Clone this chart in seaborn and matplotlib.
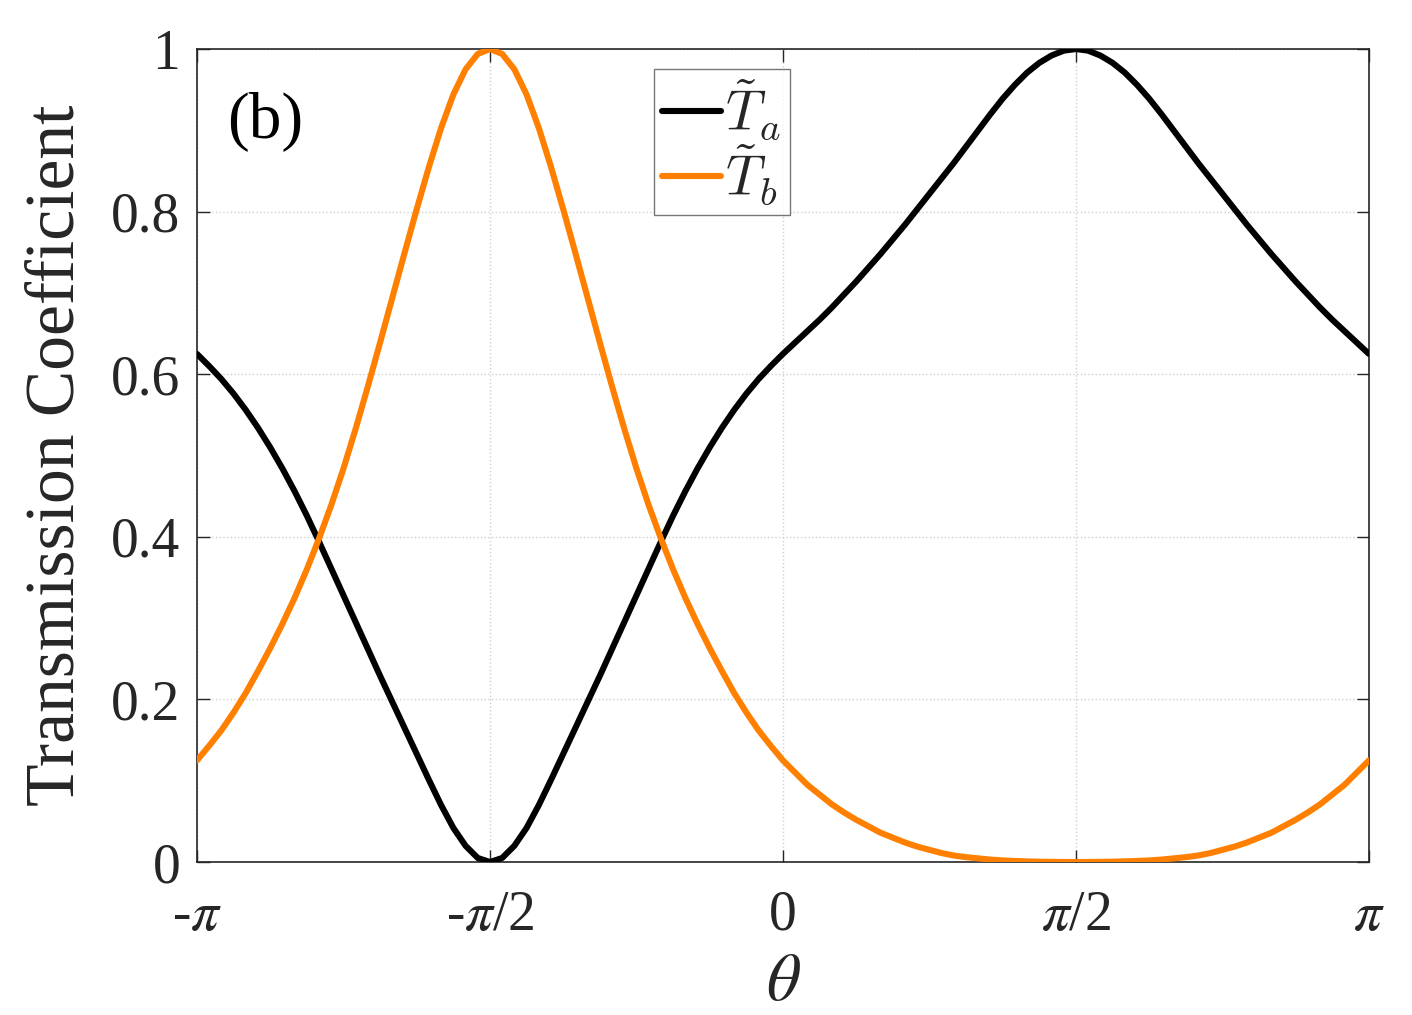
import numpy as np
import pandas as pd
import seaborn as sns
import matplotlib
matplotlib.use("Agg")
import matplotlib.pyplot as plt
from matplotlib.font_manager import FontProperties

# theta grid: -pi .. pi in steps of pi/48
theta = np.linspace(-np.pi, np.pi, 97)

# values
T_a = [0.625, 0.610, 0.594, 0.576, 0.556, 0.534, 0.510, 0.484, 0.456, 0.426,
       0.394, 0.361, 0.328, 0.295, 0.262, 0.229, 0.197, 0.165, 0.133, 0.101,
       0.070, 0.042, 0.020, 0.005, 0.000,
       0.005, 0.020, 0.042, 0.070, 0.101, 0.133, 0.165, 0.197, 0.229, 0.262,
       0.295, 0.328, 0.361, 0.394, 0.426, 0.456, 0.484, 0.510, 0.534, 0.556,
       0.576, 0.594, 0.610, 0.625,
       0.639, 0.653, 0.667, 0.682, 0.698, 0.714, 0.731, 0.748, 0.766, 0.784,
       0.803, 0.822, 0.841, 0.860, 0.880, 0.900, 0.920, 0.939, 0.956, 0.971,
       0.983, 0.992, 0.998, 1.000,
       0.998, 0.992, 0.983, 0.971, 0.956, 0.939, 0.920, 0.900, 0.880, 0.860,
       0.841, 0.822, 0.803, 0.784, 0.766, 0.748, 0.731, 0.714, 0.698, 0.682,
       0.667, 0.653, 0.639, 0.625]
T_b = [0.125, 0.143, 0.162, 0.184, 0.208, 0.235, 0.263, 0.293, 0.325, 0.360,
       0.398, 0.439, 0.484, 0.533, 0.585, 0.639, 0.694, 0.749, 0.803, 0.855,
       0.903, 0.944, 0.975, 0.994, 1.000,
       0.994, 0.975, 0.944, 0.903, 0.855, 0.803, 0.749, 0.694, 0.639, 0.585,
       0.533, 0.484, 0.439, 0.398, 0.360, 0.325, 0.293, 0.263, 0.235, 0.208,
       0.184, 0.162, 0.143, 0.125,
       0.110, 0.095, 0.083, 0.071, 0.061, 0.052, 0.044, 0.036, 0.030, 0.024,
       0.019, 0.015, 0.011, 0.008, 0.006, 0.0045, 0.003, 0.002, 0.0013, 0.0008,
       0.0004, 0.0002, 0.00005, 0.0,
       0.00005, 0.0002, 0.0004, 0.0008, 0.0013, 0.002, 0.003, 0.0045, 0.006, 0.008,
       0.011, 0.015, 0.019, 0.024, 0.030, 0.036, 0.044, 0.052, 0.061, 0.071,
       0.083, 0.095, 0.110, 0.125]

series_names = [r'$\tilde{T}_a$', r'$\tilde{T}_b$']
series_colors = ['black', '#FF8000']

x_ticks = [-np.pi, -np.pi / 2, 0, np.pi / 2, np.pi]
x_ticklabels = [r'-$\pi$', r'-$\pi$/2', '0', r'$\pi$/2', r'$\pi$']
y_ticks = [0, 0.2, 0.4, 0.6, 0.8, 1.0]
y_ticklabels = ['0', '0.2', '0.4', '0.6', '0.8', '1']

df = pd.DataFrame({
    'theta': np.concatenate([theta, theta]),
    'T': np.concatenate([T_a, T_b]),
    'curve': [series_names[0]] * len(theta) + [series_names[1]] * len(theta),
})

sns.set_style("ticks")
plt.rcParams['font.family'] = ['Liberation Serif', 'DejaVu Serif']
plt.rcParams['mathtext.fontset'] = 'stix'

fig = plt.figure(figsize=(14.12, 10.15), dpi=100)
ax = fig.add_axes([0.1395, 0.1507, 0.8300, 0.8010])

sns.lineplot(data=df, x='theta', y='T', hue='curve', sort=False,
             palette=dict(zip(series_names, series_colors)),
             linewidth=4.4, ax=ax, zorder=3)

ax.set_xlim(-np.pi, np.pi)
ax.set_ylim(0, 1)
ax.set_xticks(x_ticks)
ax.set_xticklabels(x_ticklabels)
ax.set_yticks(y_ticks)
ax.set_yticklabels(y_ticklabels)
ax.grid(True, linestyle=':', color='#d0d0d0', linewidth=1.0)

ax.tick_params(axis='both', direction='in', length=9, width=1.0,
               top=True, right=True, colors='#262626', labelsize=40)
ax.tick_params(axis='x', pad=20)
ax.tick_params(axis='y', pad=12)
for s in ax.spines.values():
    s.set_color('#262626')
    s.set_linewidth(1.2)

ax.set_xlabel(r'$\theta$', fontsize=48, color='#262626', labelpad=8)
ax.set_ylabel('Transmission Coefficient', fontsize=50, color='#262626', labelpad=16)

ax.text(0.026, 0.91, '(b)', transform=ax.transAxes, fontsize=47,
        va='center', ha='left', color='black')

leg_font = FontProperties(family='Liberation Serif', size=40, math_fontfamily='cm')
leg = ax.legend(loc='upper left', bbox_to_anchor=(0.39, 0.975), prop=leg_font,
                frameon=True, fancybox=False, edgecolor='#555555',
                handlelength=1.05, handletextpad=0.08, borderpad=0.15,
                labelspacing=0.0, borderaxespad=0)
leg.get_frame().set_linewidth(1.0)
for line in leg.get_lines():
    line.set_linewidth(4.4)

fig.savefig('out.png', dpi=100)
